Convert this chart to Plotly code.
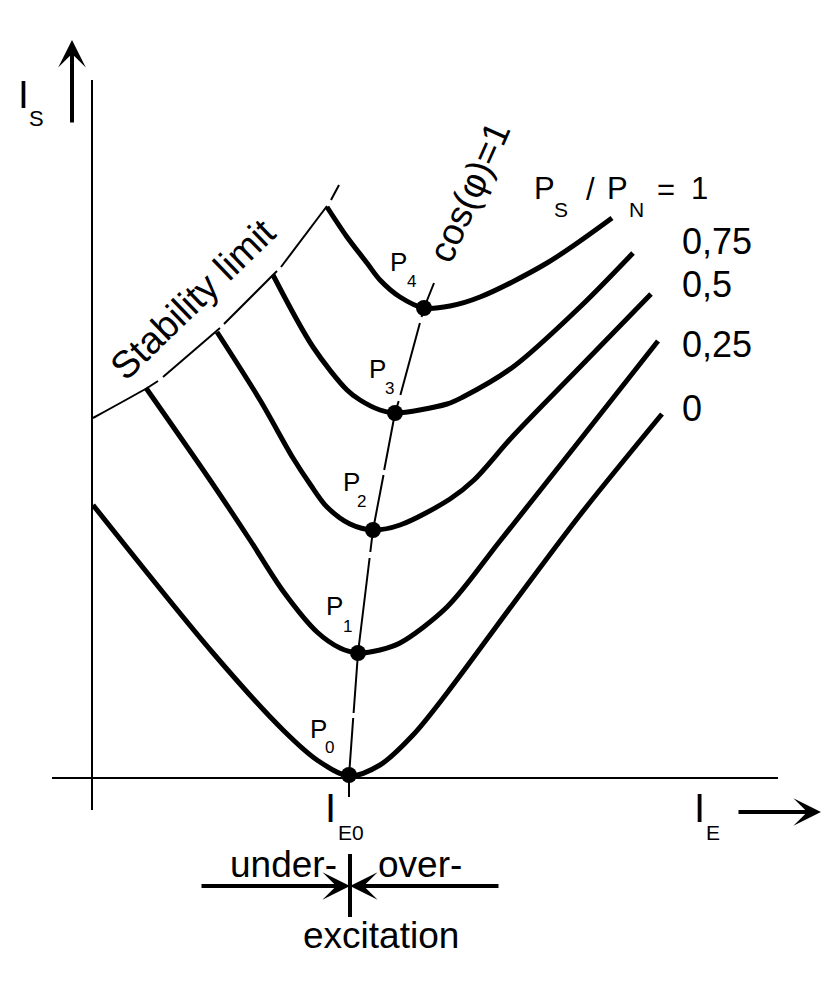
import plotly.graph_objects as go

# ---------------- data (I_E horizontal, I_S vertical, arbitrary units) ----------------
# V-curves for P_S / P_N = 0, 0.25, 0.5, 0.75, 1
IE_p000 = [0.01, 1.21, 1.91, 2.25, 2.57, 2.88, 3.21, 3.55, 4.21, 4.88, 5.70]
IS_p000 = [2.73, 1.25, 0.48, 0.18, 0.02, 0.13, 0.43, 0.85, 1.74, 2.63, 3.64]

IE_p025 = [0.54, 1.18, 1.58, 1.91, 2.25, 2.48, 2.66, 2.88, 3.08, 3.55, 4.08, 4.88, 5.66]
IS_p025 = [3.90, 2.98, 2.38, 1.87, 1.46, 1.30, 1.25, 1.28, 1.35, 1.71, 2.37, 3.38, 4.37]

IE_p050 = [1.25, 1.68, 2.01, 2.18, 2.35, 2.58, 2.81, 3.08, 3.58, 3.82, 4.21, 4.88, 5.59]
IS_p050 = [4.46, 3.78, 3.20, 2.94, 2.71, 2.54, 2.48, 2.53, 2.79, 2.98, 3.42, 4.11, 4.84]

IE_p075 = [1.81, 2.21, 2.55, 2.68, 2.88, 3.03, 3.55, 3.71, 4.21, 4.88, 5.41]
IS_p075 = [5.03, 4.31, 3.88, 3.78, 3.68, 3.65, 3.74, 3.81, 4.11, 4.71, 5.25]

IE_p100 = [2.35, 2.55, 2.75, 2.88, 3.08, 3.32, 3.58, 3.88, 4.55, 5.20]
IS_p100 = [5.71, 5.41, 5.15, 4.98, 4.81, 4.70, 4.72, 4.81, 5.15, 5.60]

# stability limit (None = small breaks in the drawn line)
IE_stab = [0.01, 0.55, 0.66, None, 0.71, 1.28, None, 1.32, 1.85, None, 1.89, 2.35, None, 2.39, 2.47]
IS_stab = [3.60, 3.90, 3.97, None, 4.01, 4.50, None, 4.54, 5.07, None, 5.11, 5.72, None, 5.78, 5.93]

# cos(phi)=1 line (None = small breaks in the drawn line)
IE_cos = [2.57, 2.57, 2.612, None, 2.616, 2.66, 2.776, None, 2.783, 2.81, 2.915, None,
          2.922, 3.03, 3.067, None, 3.084, 3.279, None, 3.296, 3.32, 3.42]
IS_cos = [-0.19, 0.02, 0.60, None, 0.65, 1.25, 2.20, None, 2.26, 2.48, 3.03, None,
          3.08, 3.65, 3.77, None, 3.83, 4.55, None, 4.61, 4.70, 4.95]

# operating points P0..P4 (minima of the V-curves)
P_names = ["0", "1", "2", "3", "4"]
P_IE = [2.57, 2.66, 2.81, 3.03, 3.32]
P_IS = [0.03, 1.25, 2.48, 3.65, 4.70]

# curve labels P_S/P_N
ratio_labels = ["0,75", "0,5", "0,25", "0"]

curves = [(IE_p000, IS_p000), (IE_p025, IS_p025), (IE_p050, IS_p050),
          (IE_p075, IS_p075), (IE_p100, IS_p100)]

# ---------------- helpers: reference-pixel -> axis coordinates for layout items ----------------
def X(px):
    return (px - 92) / 100.0

def Y(py):
    return (778 - py) / 100.0

FONT = "Liberation Sans, Arial, sans-serif"

fig = go.Figure()

# thin lines
fig.add_trace(go.Scatter(x=IE_stab, y=IS_stab, mode="lines", connectgaps=False,
                         line=dict(color="black", width=2, shape="spline", smoothing=0.8),
                         hoverinfo="skip"))
fig.add_trace(go.Scatter(x=IE_cos, y=IS_cos, mode="lines", connectgaps=False,
                         line=dict(color="black", width=2),
                         hoverinfo="skip"))
# thick V-curves
for xs, ys in curves:
    fig.add_trace(go.Scatter(x=xs, y=ys, mode="lines",
                             line=dict(color="black", width=5, shape="spline", smoothing=0.9),
                             hoverinfo="skip"))
# operating points
fig.add_trace(go.Scatter(x=P_IE, y=P_IS, mode="markers",
                         marker=dict(color="black", size=16), hoverinfo="skip"))

shapes = [
    # vertical axis
    dict(type="line", x0=X(92), x1=X(92), y0=Y(80), y1=Y(810),
         line=dict(color="black", width=2), layer="below"),
    # horizontal axis
    dict(type="line", x0=X(52), x1=X(778), y0=Y(778), y1=Y(778),
         line=dict(color="black", width=2), layer="below"),
    # tick at bottom between under-/over-
    dict(type="line", x0=X(350), x1=X(350), y0=Y(854), y1=Y(917),
         line=dict(color="black", width=4)),
]

ann = []

def txt(s, cx, cy, size, angle=0, xanchor="center"):
    ann.append(dict(text=s, x=X(cx), y=Y(cy), xref="x", yref="y", showarrow=False,
                    xanchor=xanchor, yanchor="middle", textangle=angle,
                    font=dict(family=FONT, size=size, color="black")))

def arrow(tipx, tipy, tailx, taily, width=4, size=1.15):
    ann.append(dict(text="", x=X(tipx), y=Y(tipy), ax=X(tailx), ay=Y(taily),
                    xref="x", yref="y", axref="x", ayref="y", showarrow=True,
                    arrowhead=3, arrowsize=size, arrowwidth=width, arrowcolor="black",
                    standoff=0, startstandoff=0))

# I_S
txt("I", 23, 94, 39)
txt("S", 36.5, 118, 22)
arrow(72, 40, 72, 124)

# I_E0 and I_E
txt("I", 330.5, 807.5, 40)
txt("E0", 351, 832.5, 21)
txt("I", 699.5, 807.5, 40)
txt("E", 713, 832, 21)
arrow(821, 812, 737, 812)

# P labels
P_label_pos = [((318, 729), (329, 747.5)), ((334.5, 606), (347, 626)),
               ((351, 482), (361, 501)), ((377.5, 369), (389, 388.5)),
               ((398.5, 262), (411, 281))]
for name, (pp, sp) in zip(P_names, P_label_pos):
    txt("P", pp[0], pp[1], 26)
    txt(name, sp[0], sp[1], 17)

# P_S / P_N = 1
txt("P", 544, 188, 31)
txt("S", 561, 209, 21)
txt("/", 590, 189.5, 31)
txt("P", 617, 188, 31)
txt("N", 636, 209, 21)
txt("=", 666, 189, 31)
txt("1", 699.5, 188.5, 31)

# right labels
for s, cy in zip(ratio_labels, [241, 284.5, 344.5, 408]):
    txt(s, 680, cy, 36, xanchor="left")

# rotated labels
txt("Stability limit", 193, 299, 38, angle=-44)
txt("cos(φ)=1", 469, 192, 37, angle=-66)

# excitation
txt("under-", 283, 864, 37)
txt("over-", 420, 864, 37)
txt("excitation", 380.5, 935, 37)
arrow(350, 886, 200, 886)
arrow(350, 886, 500, 886)

# page body has an 8px margin: the figure is drawn from reference pixel 8 onwards
fig.update_layout(
    width=824, height=979, autosize=False,
    margin=dict(l=0, r=0, t=0, b=0, pad=0),
    paper_bgcolor="white", plot_bgcolor="white",
    showlegend=False,
    xaxis=dict(range=[X(8), X(832)], visible=False, fixedrange=True),
    yaxis=dict(range=[Y(987), Y(8)], visible=False, fixedrange=True),
    shapes=shapes, annotations=ann,
)

fig.write_html("out.html", config={"displayModeBar": False})
